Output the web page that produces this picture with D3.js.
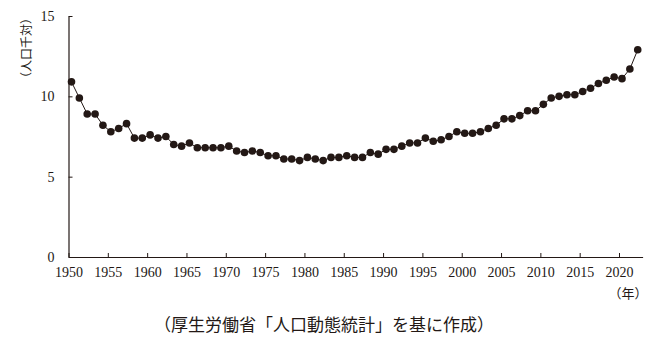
<!DOCTYPE html>
<html><head><meta charset="utf-8">
<script src="https://cdn.jsdelivr.net/npm/d3@7"></script>
<style>body{margin:0;background:#fff}svg{display:block}</style>
</head><body>
<script>
const years = d3.range(1950, 2023);
const rates = [10.9,9.9,8.9,8.9,8.2,7.8,8.0,8.3,7.4,7.4,
  7.6,7.4,7.5,7.0,6.9,7.1,6.8,6.8,6.8,6.8,
  6.9,6.6,6.5,6.6,6.5,6.3,6.3,6.1,6.1,6.0,
  6.2,6.1,6.0,6.2,6.2,6.3,6.2,6.2,6.5,6.4,
  6.7,6.7,6.9,7.1,7.1,7.4,7.2,7.3,7.5,7.8,
  7.7,7.7,7.8,8.0,8.2,8.6,8.6,8.8,9.1,9.1,
  9.5,9.9,10.0,10.1,10.1,10.3,10.5,10.8,11.0,11.2,
  11.1,11.7,12.9];
const xTicks = d3.range(1950, 2021, 5);
const yTicks = [0, 5, 10, 15];
const yLabel = "（人口千対）";
const xUnit = "（年）";
const caption = "（厚生労働省「人口動態統計」を基に作成）";

const W = 654, H = 348, ink = "#231815";
const svg = d3.select("body").append("svg").attr("width", W).attr("height", H);
const x = d3.scaleLinear().domain([1950, 2023]).range([68.5, 642.6]);
const y = d3.scaleLinear().domain([0, 15]).range([257, 16]);
const ptShift = 0.38; // points sit slightly right of the year ticks
const numFont = "'Liberation Serif','Times New Roman',serif";
const jpFont = "'Noto Sans CJK JP',sans-serif";

const xAxis = svg.append("g").attr("transform", `translate(0,${y(0)})`)
  .call(d3.axisBottom(x).tickValues(xTicks).tickFormat(d3.format("d")).tickSizeInner(-4).tickSizeOuter(0).tickPadding(10));
const yAxis = svg.append("g").attr("transform", `translate(${x(1950)},0)`)
  .call(d3.axisLeft(y).tickValues(yTicks).tickSizeInner(-4).tickSizeOuter(0).tickPadding(14));
[xAxis, yAxis].forEach(g => {
  g.select(".domain").attr("stroke", ink).attr("stroke-width", 1.2);
  g.selectAll(".tick line").attr("stroke", ink).attr("stroke-width", 1);
  g.selectAll(".tick text").attr("fill", ink).style("font-family", numFont).style("font-size", "14px");
});
xAxis.selectAll(".tick text").attr("dy", "0.71em");

const data = years.map((yr, i) => ({yr, v: rates[i]}));
svg.append("path").datum(data)
  .attr("fill", "none").attr("stroke", ink).attr("stroke-width", 1)
  .attr("d", d3.line().x(d => x(d.yr + ptShift)).y(d => y(d.v)));
svg.append("g").selectAll("circle").data(data).join("circle")
  .attr("cx", d => x(d.yr + ptShift)).attr("cy", d => y(d.v)).attr("r", 3.8).attr("fill", ink);

svg.append("text").attr("transform", "translate(25,48) rotate(-90)")
  .attr("text-anchor", "middle").attr("dominant-baseline", "central")
  .attr("fill", ink).style("font-family", jpFont).style("font-size", "12px").text(yLabel);
svg.append("text").attr("x", 628).attr("y", 298).attr("text-anchor", "middle")
  .attr("fill", ink).style("font-family", jpFont).style("font-size", "13px").text(xUnit);
svg.append("text").attr("x", 324).attr("y", 331).attr("text-anchor", "middle")
  .attr("fill", ink).style("font-family", jpFont).style("font-size", "17px").text(caption);
</script>
</body></html>
